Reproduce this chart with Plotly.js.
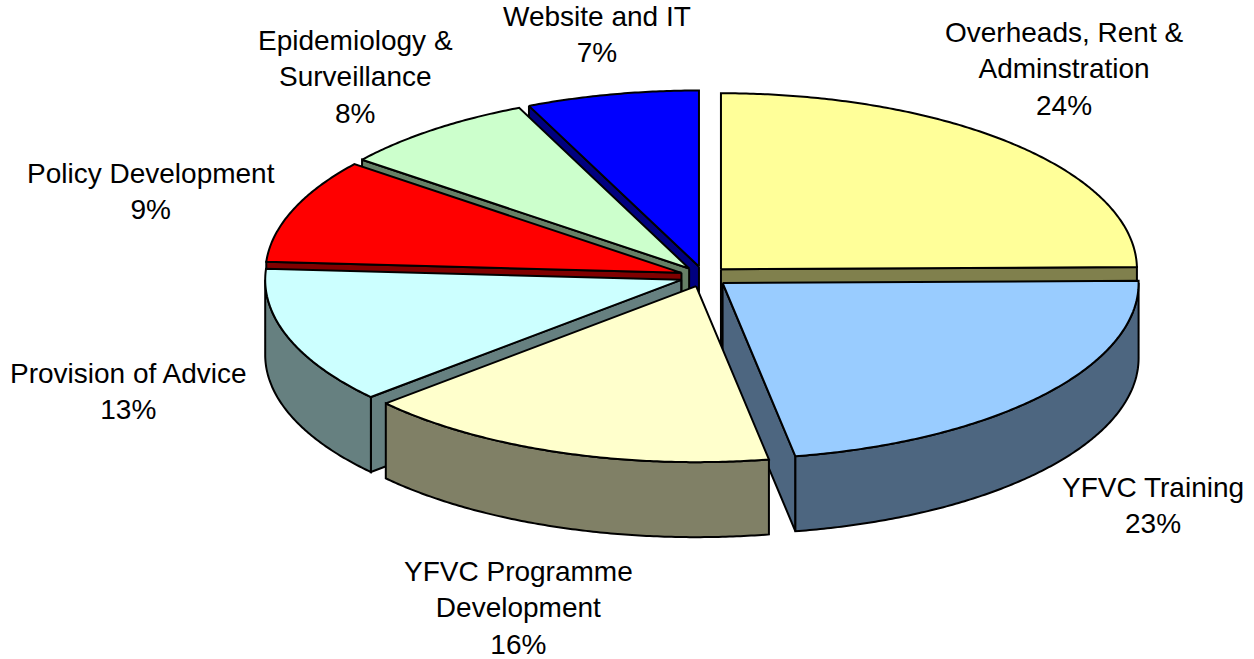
<!DOCTYPE html>
<html>
<head>
<meta charset="utf-8">
<script src="https://cdn.plot.ly/plotly-3.0.1.min.js"></script>
<style>html,body{margin:0;padding:0;background:#fff}#chart{width:1254px;height:659px}</style>
</head>
<body>
<div id="chart"></div>
<script>
// Data
const categories = ["Overheads, Rent &<br>Adminstration", "YFVC Training", "YFVC Programme<br>Development", "Provision of Advice", "Policy Development", "Epidemiology &<br>Surveillance", "Website and IT"];
const printedPercent = [24, 23, 16, 13, 9, 8, 7];
const shares = [24.8, 22.4, 16.2, 12.6, 9.6, 7.7, 6.7];
const topColors = ["#FFFF99", "#99CCFF", "#FFFFCC", "#CCFFFF", "#FF0000", "#CCFFCC", "#0000FF"];
const wallColors = ["#80804D", "#4D6680", "#808066", "#668080", "#800000", "#668066", "#000080"];
const labelX = [1064, 1153, 518, 128, 151, 355, 597];
const labelY = [69, 505, 608, 391, 191, 77, 34];
const drawOrder = [0, 6, 5, 4, 3, 1, 2];

// Projection of the tilted pie onto the plot
const cx = 704, cy = 276.5, rx = 416, ry = 176, depth = 75, explode = 0.058;
const rad = d => d * Math.PI / 180;

const total = shares.reduce((a, b) => a + b, 0);
let acc = 0;
const slices = shares.map((v, i) => {
  const a0 = acc / total * 360;
  acc += v;
  const a1 = acc / total * 360;
  const mid = rad((a0 + a1) / 2);
  return {i, a0, a1,
    ax: cx + explode * rx * Math.sin(mid),
    ay: cy - explode * ry * Math.cos(mid)};
});

function rim(s, deg) {
  return [s.ax + rx * Math.sin(rad(deg)), s.ay - ry * Math.cos(rad(deg))];
}
function arc(s, from, to) {
  const pts = [], n = Math.max(2, Math.ceil(Math.abs(to - from) * 2));
  for (let k = 0; k <= n; k++) pts.push(rim(s, from + (to - from) * k / n));
  return pts;
}
function face(pts, color, name, showHover) {
  const closed = pts.concat([pts[0]]);
  return {
    type: "scatter", mode: "lines", fill: "toself", fillcolor: color,
    x: closed.map(p => p[0]), y: closed.map(p => p[1]),
    line: {color: "#000000", width: 2, simplify: false},
    name: name.replace(/<br>/g, " "), showlegend: false,
    hoverinfo: showHover ? "name" : "skip"
  };
}
function cutFace(s, deg, color, name) {
  const e = rim(s, deg);
  return face([[s.ax, s.ay], e, [e[0], e[1] + depth], [s.ax, s.ay + depth]], color, name, false);
}

const traces = [];
drawOrder.forEach(idx => {
  const s = slices[idx], name = categories[idx], wall = wallColors[idx];
  if (Math.sin(rad(s.a0)) < 0) traces.push(cutFace(s, s.a0, wall, name));
  if (Math.sin(rad(s.a1)) > 0) traces.push(cutFace(s, s.a1, wall, name));
  const w0 = Math.max(s.a0, 90), w1 = Math.min(s.a1, 270);
  if (w1 > w0) {
    const upper = arc(s, w0, w1);
    const lower = upper.slice().reverse().map(p => [p[0], p[1] + depth]);
    traces.push(face(upper.concat(lower), wall, name, false));
  }
  traces.push(face([[s.ax, s.ay]].concat(arc(s, s.a0, s.a1)), topColors[idx], name, true));
});

const annotations = categories.map((c, i) => ({
  x: labelX[i], y: labelY[i], xref: "x", yref: "y",
  text: c + "<br>" + printedPercent[i] + "%",
  showarrow: false, xanchor: "center", yanchor: "middle", align: "center",
  font: {family: "Liberation Sans, Arial, sans-serif", size: 28, color: "#000000"}
}));

const layout = {
  width: 1254, height: 659,
  margin: {l: 0, r: 0, t: 0, b: 0},
  paper_bgcolor: "#ffffff", plot_bgcolor: "#ffffff",
  showlegend: false,
  xaxis: {range: [0, 1254], visible: false, fixedrange: true},
  yaxis: {range: [659, 0], visible: false, fixedrange: true},
  annotations
};
Plotly.newPlot("chart", traces, layout, {displayModeBar: false});
</script>
</body>
</html>
